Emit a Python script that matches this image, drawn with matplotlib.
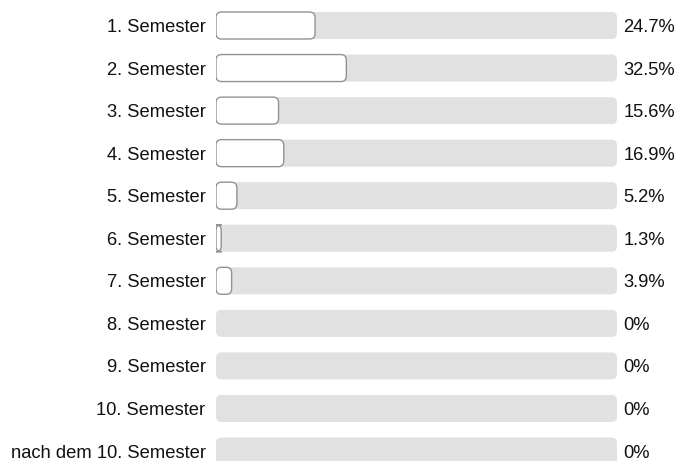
import matplotlib.pyplot as plt
from matplotlib.patches import FancyBboxPatch

plt.rcParams['font.family'] = ['Liberation Sans', 'DejaVu Sans']

categories = ['1. Semester', '2. Semester', '3. Semester', '4. Semester',
              '5. Semester', '6. Semester', '7. Semester', '8. Semester',
              '9. Semester', '10. Semester', 'nach dem 10. Semester']
percent = [24.7, 32.5, 15.6, 16.9, 5.2, 1.3, 3.9, 0, 0, 0, 0]
labels = ['24.7%', '32.5%', '15.6%', '16.9%', '5.2%', '1.3%', '3.9%',
          '0%', '0%', '0%', '0%']

W, H = 677, 461
fig = plt.figure(figsize=(W / 100, H / 100), dpi=100)
ax = fig.add_axes([216 / W, 0, (617 - 216) / W, 1])

row_h = 42.55
top = 25.5
ax.set_xlim(0, 100)
ax.set_ylim((H - top) / row_h, -top / row_h)
ax.axis('off')

bar_h = 27 / row_h
px_x = (617 - 216) / 100
rad = 5.5  # corner radius in pixels
aspect = (rad / row_h) / (rad / px_x)

ypos = range(len(categories))
tracks = ax.barh(ypos, [100] * len(categories), height=bar_h, color='none')
bars = ax.barh(ypos, percent, height=bar_h, color='none')


def rounded(rect, face, edge, lw, z):
    x, y = rect.get_x(), rect.get_y()
    w, h = rect.get_width(), rect.get_height()
    p = FancyBboxPatch((x, y), w, h,
                       boxstyle='round,pad=0,rounding_size=%f' % (rad / px_x),
                       mutation_aspect=aspect, facecolor=face,
                       edgecolor=edge, linewidth=lw, zorder=z)
    ax.add_patch(p)


for r in tracks:
    rounded(r, '#e1e1e1', 'none', 0, 1)
for r, v in zip(bars, percent):
    if v > 0:
        rounded(r, 'white', '#929292', 1.0, 2)

for i, (c, l) in enumerate(zip(categories, labels)):
    ax.annotate(c, (0, i), xytext=(-7.5, -4.7), textcoords='offset points',
                ha='right', va='baseline', fontsize=13.2, color='#111111')
    ax.annotate(l, (100, i), xytext=(4.5, -4.7), textcoords='offset points',
                ha='left', va='baseline', fontsize=13.2, color='#111111')

fig.savefig('out.png', dpi=100)
